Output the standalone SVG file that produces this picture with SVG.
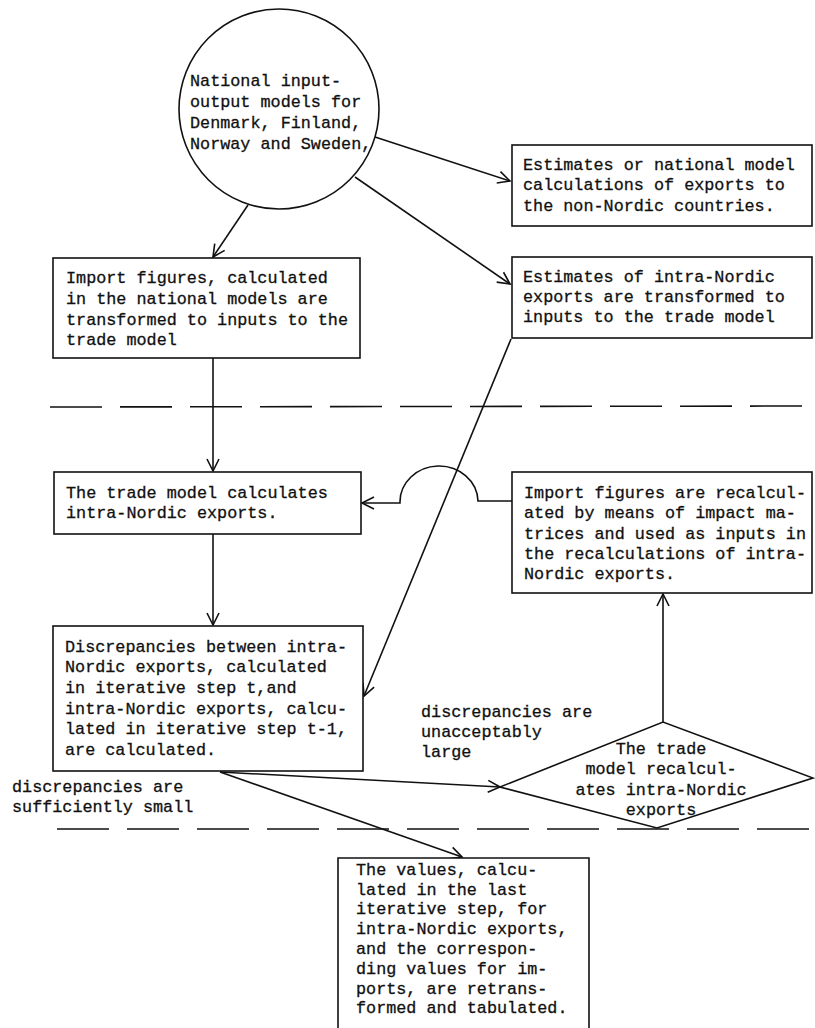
<svg xmlns="http://www.w3.org/2000/svg" width="815" height="1028" viewBox="0 0 815 1028">
<style>
.t{font-family:"Liberation Mono","Courier New",monospace;font-size:16.8px;fill:#111;stroke:#111;stroke-width:0.3}
.box{fill:#fff;stroke:#111;stroke-width:1.6}
.c{fill:none;stroke:#111;stroke-width:1.6}
.dash{fill:none;stroke:#111;stroke-width:1.6;stroke-dasharray:52 18}
</style>
<defs>
<marker id="ah" viewBox="-14 -8 16 16" refX="0" refY="0" markerWidth="16" markerHeight="16" markerUnits="userSpaceOnUse" orient="auto">
<path d="M -12 -6 L 0 0 L -12 6" fill="none" stroke="#111" stroke-width="1.6"/>
</marker>
</defs>
<rect width="815" height="1028" fill="#fff"/>

<g id="separators">
<line class="dash" x1="50" y1="407" x2="815" y2="406"/>
<line class="dash" x1="57" y1="829" x2="815" y2="829"/>
</g>

<g id="connectors">
<line class="c" x1="375" y1="137" x2="510" y2="181" marker-end="url(#ah)"/>
<line class="c" x1="355" y1="177" x2="510" y2="284" marker-end="url(#ah)"/>
<line class="c" x1="248" y1="205" x2="213" y2="257" marker-end="url(#ah)"/>
<line class="c" x1="213" y1="358" x2="213" y2="471" marker-end="url(#ah)"/>
<line class="c" x1="213" y1="534" x2="213" y2="625" marker-end="url(#ah)"/>
<line class="c" x1="511" y1="339" x2="364" y2="696" stroke-width="1.2" marker-end="url(#ah)"/>
<path class="c" d="M 512 501 L 478 501 A 39 36 0 0 0 400 503 L 362 503" marker-end="url(#ah)"/>
<line class="c" x1="663" y1="722" x2="663" y2="594" marker-end="url(#ah)"/>
<line class="c" x1="220" y1="772" x2="500" y2="787" marker-end="url(#ah)"/>
<line class="c" x1="220" y1="772" x2="462" y2="857" stroke-width="2" marker-end="url(#ah)"/>
</g>

<g id="n_national">
<circle cx="279" cy="109" r="100" fill="#fff" stroke="#111" stroke-width="1.6"/>
<text class="t" x="190" y="86">National input-</text>
<text class="t" x="190" y="107">output models for</text>
<text class="t" x="190" y="128">Denmark, Finland,</text>
<text class="t" x="190" y="149">Norway and Sweden,</text>
</g>

<g id="n_exports_non_nordic">
<rect class="box" x="512" y="145" width="300" height="81"/>
<text class="t" x="523" y="170">Estimates or national model</text>
<text class="t" x="523" y="190">calculations of exports to</text>
<text class="t" x="523" y="211">the non-Nordic countries.</text>
</g>

<g id="n_intra_estimates">
<rect class="box" x="512" y="257" width="300" height="81"/>
<text class="t" x="523" y="282">Estimates of intra-Nordic</text>
<text class="t" x="523" y="302">exports are transformed to</text>
<text class="t" x="523" y="322">inputs to the trade model</text>
</g>

<g id="n_import_figures">
<rect class="box" x="53" y="258" width="307" height="100"/>
<text class="t" x="66" y="283">Import figures, calculated</text>
<text class="t" x="66" y="304">in the national models are</text>
<text class="t" x="66" y="325">transformed to inputs to the</text>
<text class="t" x="66" y="345">trade model</text>
</g>

<g id="n_trade_model">
<rect class="box" x="54" y="472" width="307" height="62"/>
<text class="t" x="66" y="498">The trade model calculates</text>
<text class="t" x="66" y="518">intra-Nordic exports.</text>
</g>

<g id="n_recalc_imports">
<rect class="box" x="512" y="472" width="300" height="121"/>
<text class="t" x="524" y="498">Import figures are recalcul-</text>
<text class="t" x="524" y="518">ated by means of impact ma-</text>
<text class="t" x="524" y="539">trices and used as inputs in</text>
<text class="t" x="524" y="559">the recalculations of intra-</text>
<text class="t" x="524" y="579">Nordic exports.</text>
</g>

<g id="n_discrepancies">
<rect class="box" x="53" y="626" width="310" height="145"/>
<text class="t" x="65" y="652">Discrepancies between intra-</text>
<text class="t" x="65" y="672">Nordic exports, calculated</text>
<text class="t" x="65" y="693">in iterative step t,and</text>
<text class="t" x="65" y="714">intra-Nordic exports, calcu-</text>
<text class="t" x="65" y="734">lated in iterative step t-1,</text>
<text class="t" x="65" y="755">are calculated.</text>
</g>

<g id="n_decision">
<polygon points="500,787 663,722 813,778 657,828" fill="#fff" stroke="#111" stroke-width="1.6"/>
<text class="t" x="661" y="754" text-anchor="middle">The trade</text>
<text class="t" x="661" y="774" text-anchor="middle">model recalcul-</text>
<text class="t" x="661" y="795" text-anchor="middle">ates intra-Nordic</text>
<text class="t" x="661" y="815" text-anchor="middle">exports</text>
</g>

<g id="labels">
<text class="t" x="421" y="717">discrepancies are</text>
<text class="t" x="421" y="737">unacceptably</text>
<text class="t" x="421" y="757">large</text>
<text class="t" x="12" y="792">discrepancies are</text>
<text class="t" x="12" y="812">sufficiently small</text>
</g>

<g id="n_final">
<path d="M 338 1028 L 338 858 L 589 858 L 589 1028" fill="#fff" stroke="#111" stroke-width="1.6"/>
<text class="t" x="356" y="875">The values, calcu-</text>
<text class="t" x="356" y="895">lated in the last</text>
<text class="t" x="356" y="914">iterative step, for</text>
<text class="t" x="356" y="934">intra-Nordic exports,</text>
<text class="t" x="356" y="954">and the correspon-</text>
<text class="t" x="356" y="974">ding values for im-</text>
<text class="t" x="356" y="994">ports, are retrans-</text>
<text class="t" x="356" y="1013">formed and tabulated.</text>
</g>
</svg>
